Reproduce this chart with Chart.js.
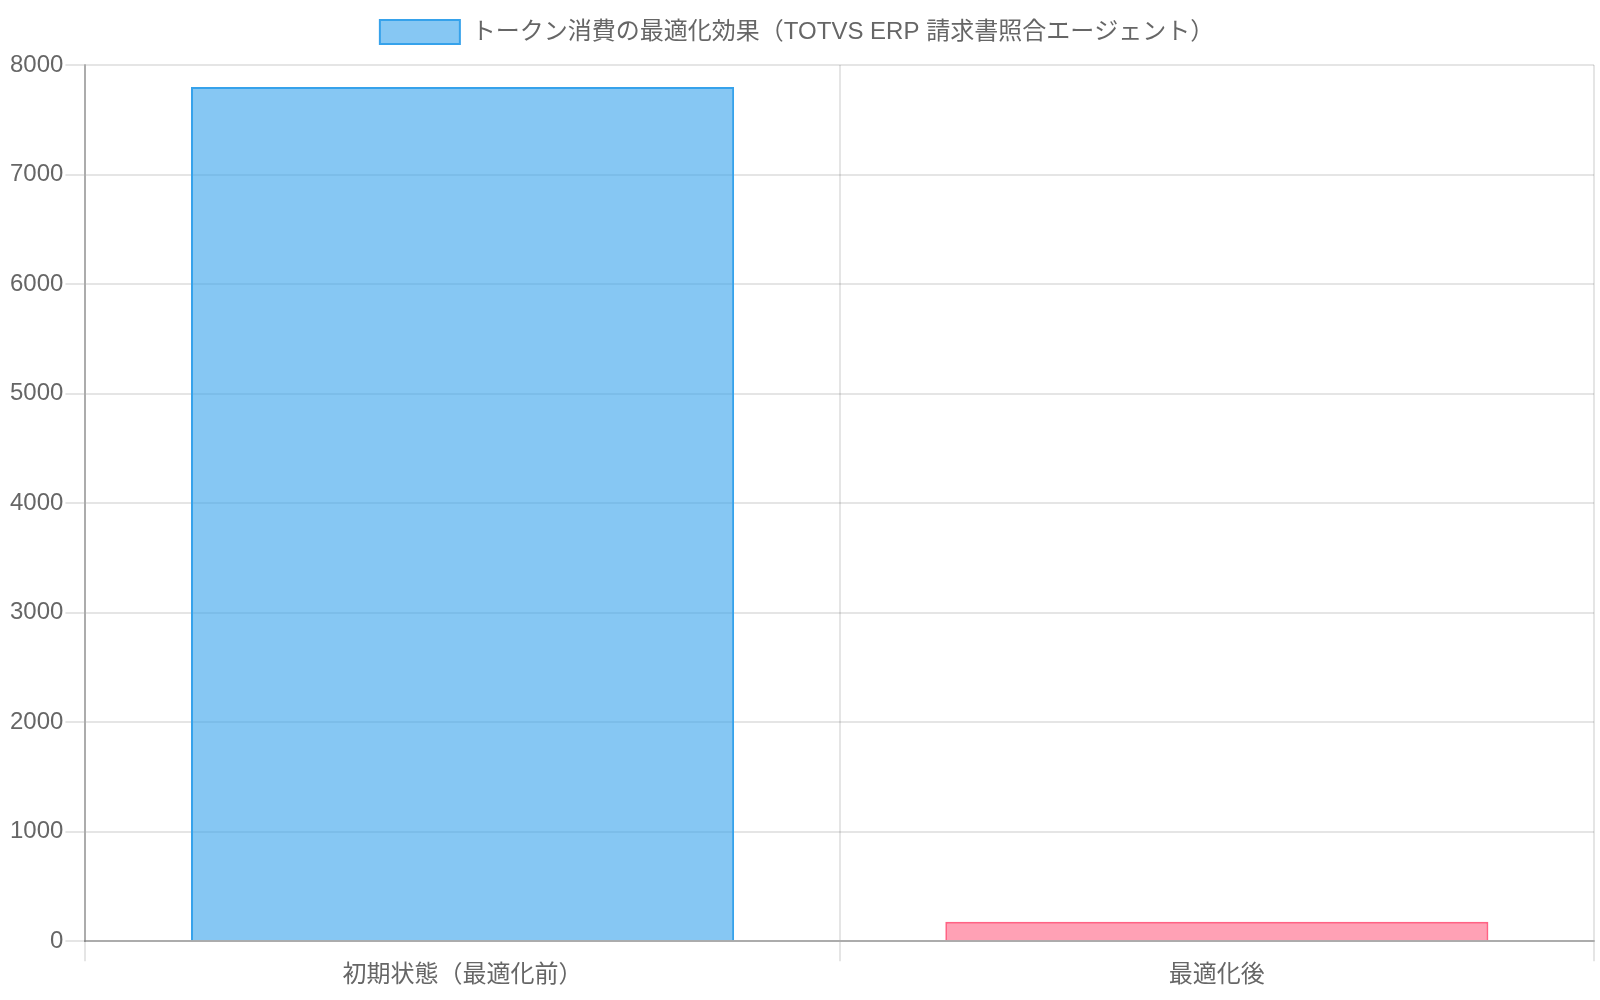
<!DOCTYPE html>
<html>
<head>
<meta charset="utf-8">
<script src="https://cdn.jsdelivr.net/npm/chart.js@4/dist/chart.umd.min.js"></script>
<style>
html,body{margin:0;padding:0;background:#fff;}
#wrap{width:1600px;height:1000px;position:relative;}
</style>
</head>
<body>
<div id="wrap"><canvas id="c"></canvas></div>
<script>
const categories = ["初期状態（最適化前）", "最適化後"];
const seriesLabel = "トークン消費の最適化効果（TOTVS ERP 請求書照合エージェント）";
const tokenValues = [7800, 178];
const yTicks = [0, 1000, 2000, 3000, 4000, 5000, 6000, 7000, 8000];

const fontFamily = '"Liberation Sans", "Noto Sans CJK JP", Arial, sans-serif';
Chart.defaults.font.family = fontFamily;
Chart.defaults.font.size = 24;
Chart.defaults.color = '#666';

const legendMargin = {
  id: 'legendMargin',
  beforeInit(chart) {
    const origFit = chart.legend.fit;
    chart.legend.fit = function () {
      origFit.bind(chart.legend)();
      this.height += 11;
    };
  }
};

new Chart(document.getElementById('c'), {
  type: 'bar',
  data: {
    labels: categories,
    datasets: [{
      label: seriesLabel,
      data: tokenValues,
      backgroundColor: ['rgba(54,162,235,0.6)', 'rgba(255,99,132,0.6)'],
      borderColor: ['rgb(54,162,235)', 'rgb(255,99,132)'],
      borderWidth: 2,
      categoryPercentage: 0.8,
      barPercentage: 0.9
    }]
  },
  plugins: [legendMargin],
  options: {
    responsive: true,
    maintainAspectRatio: false,
    animation: false,
    devicePixelRatio: 1,
    layout: { padding: { right: 6, bottom: 10 } },
    plugins: {
      legend: {
        display: true,
        position: 'top',
        labels: {
          boxWidth: 80,
          boxHeight: 24,
          padding: 20,
          font: { size: 24, family: fontFamily },
          color: '#666'
        }
      },
      tooltip: { enabled: false }
    },
    scales: {
      x: {
        grid: {
          color: 'rgba(0,0,0,0.1)',
          lineWidth: 2,
          tickLength: 20,
          offset: true
        },
        border: { color: 'rgba(0,0,0,0.25)', width: 2 },
        ticks: { font: { size: 24 }, color: '#666', padding: 0 }
      },
      y: {
        min: 0,
        max: 8000,
        afterBuildTicks: (axis) => { axis.ticks = yTicks.map(v => ({ value: v })); },
        afterFit: (axis) => { axis.width += 8; },
        grid: {
          color: 'rgba(0,0,0,0.1)',
          lineWidth: 2,
          tickLength: 20
        },
        border: { color: 'rgba(0,0,0,0.25)', width: 2 },
        ticks: { font: { size: 24 }, color: '#666', padding: 2, callback: (v) => String(v) }
      }
    }
  }
});
</script>
</body>
</html>
